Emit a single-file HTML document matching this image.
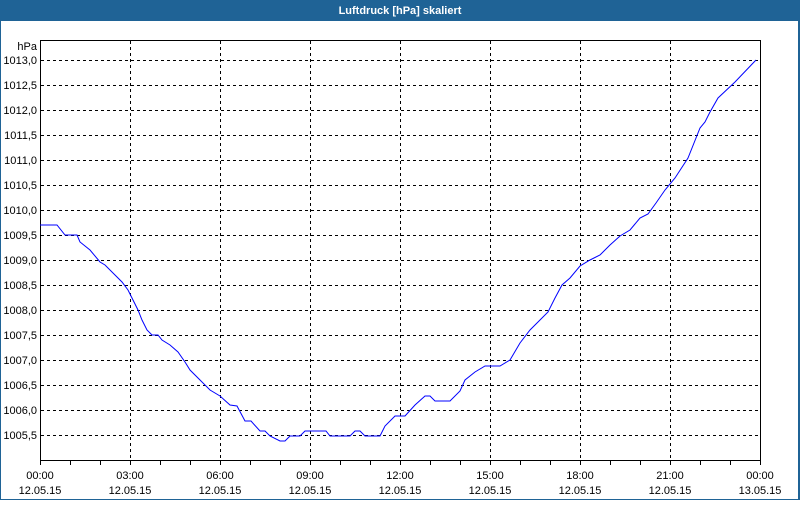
<!DOCTYPE html>
<html><head><meta charset="utf-8"><style>
body{margin:0;width:800px;height:500px;overflow:hidden;background:#fff;font-family:"Liberation Sans",sans-serif}
</style></head><body>
<svg width="800" height="500" xmlns="http://www.w3.org/2000/svg" font-family="Liberation Sans, sans-serif" font-size="11">
<rect x="0" y="0" width="800" height="500" fill="#1f6396"/>
<rect x="1" y="21" width="797" height="478" fill="#fff"/>
<text x="400" y="14" fill="#fff" font-weight="bold" text-anchor="middle" font-size="11">Luftdruck [hPa] skaliert</text>
<g stroke="#000" stroke-dasharray="3,3" stroke-width="1">
<path d="M130.5 41V460M220.5 41V460M310.5 41V460M400.5 41V460M490.5 41V460M580.5 41V460M670.5 41V460"/>
<path d="M41 60.5H760M41 85.5H760M41 110.5H760M41 135.5H760M41 160.5H760M41 185.5H760M41 210.5H760M41 235.5H760M41 260.5H760M41 285.5H760M41 310.5H760M41 335.5H760M41 360.5H760M41 385.5H760M41 410.5H760M41 435.5H760"/>
</g>
<rect x="40.5" y="40.5" width="720" height="420" fill="none" stroke="#000"/>
<g stroke="#000"><path d="M40.5 461V465M70.5 461V465M100.5 461V465M130.5 461V465M160.5 461V465M190.5 461V465M220.5 461V465M250.5 461V465M280.5 461V465M310.5 461V465M340.5 461V465M370.5 461V465M400.5 461V465M430.5 461V465M460.5 461V465M490.5 461V465M520.5 461V465M550.5 461V465M580.5 461V465M610.5 461V465M640.5 461V465M670.5 461V465M700.5 461V465M730.5 461V465M760.5 461V465"/></g>
<polyline fill="none" stroke="#0000ff" stroke-width="1" points="40,225 57,225 65,235 77,235 80,242 90,250 100,262 105,265 115,275 122,282 128,290 133,300 138,310 142,320 147,330 152,335 158,335 162,340 170,345 178,352 185,362 190,370 200,380 210,390 220,396 230,405 237,406 245,421 251,421 260,431 265,431 270,436 280,441 285,441 290,436 300,436 305,431 326,431 330,436 350,436 355,431 360,431 365,436 380,436 385,426 395,416 405,416 415,405 425,396 430,396 435,401 450,401 460,391 465,380 475,372 485,366 500,366 510,360 520,343 530,330 538,322 548,312 555,298 562,285 570,278 580,266 590,260 600,255 610,245 620,236 630,230 640,218 648,214 656,203 665,190 675,178 688,158 700,128 705,122 710,112 718,98 735,82 756,60"/>
<g text-anchor="end" fill="#000">
<text x="37" y="50">hPa</text>
<text x="37" y="64">1013,0</text><text x="37" y="89">1012,5</text><text x="37" y="114">1012,0</text><text x="37" y="139">1011,5</text><text x="37" y="164">1011,0</text><text x="37" y="189">1010,5</text><text x="37" y="214">1010,0</text><text x="37" y="239">1009,5</text><text x="37" y="264">1009,0</text><text x="37" y="289">1008,5</text><text x="37" y="314">1008,0</text><text x="37" y="339">1007,5</text><text x="37" y="364">1007,0</text><text x="37" y="389">1006,5</text><text x="37" y="414">1006,0</text><text x="37" y="439">1005,5</text>
</g>
<g text-anchor="middle" fill="#000">
<text x="40" y="479">00:00</text><text x="40" y="494">12.05.15</text>
<text x="130" y="479">03:00</text><text x="130" y="494">12.05.15</text>
<text x="220" y="479">06:00</text><text x="220" y="494">12.05.15</text>
<text x="310" y="479">09:00</text><text x="310" y="494">12.05.15</text>
<text x="400" y="479">12:00</text><text x="400" y="494">12.05.15</text>
<text x="490" y="479">15:00</text><text x="490" y="494">12.05.15</text>
<text x="580" y="479">18:00</text><text x="580" y="494">12.05.15</text>
<text x="670" y="479">21:00</text><text x="670" y="494">12.05.15</text>
<text x="760" y="479">00:00</text><text x="760" y="494">13.05.15</text>
</g>
</svg>
</body></html>
